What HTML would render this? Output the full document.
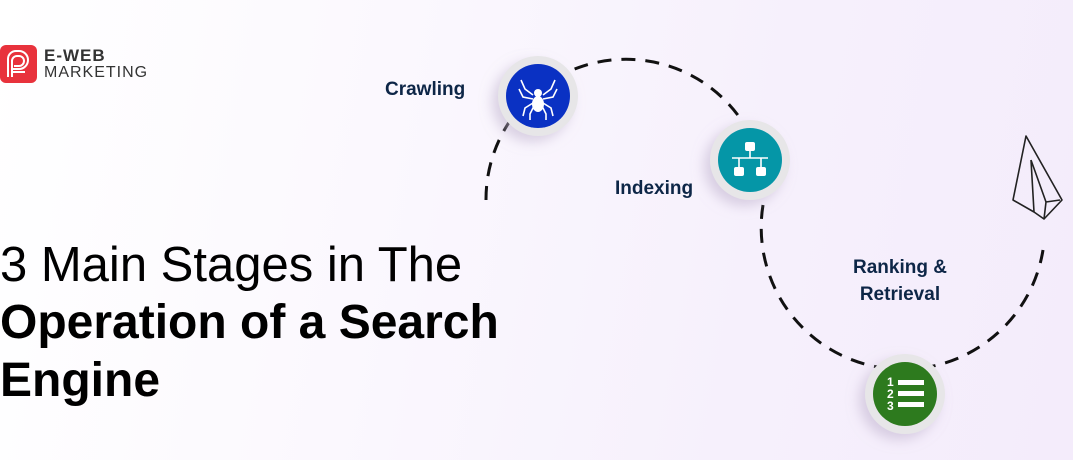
<!DOCTYPE html>
<html><head><style>
html,body{margin:0;padding:0;}
body{width:1073px;height:460px;overflow:hidden;position:relative;font-family:"Liberation Sans",sans-serif;
background:linear-gradient(100deg,#ffffff 0%,#fbf8fe 35%,#f6f0fc 70%,#f4ecfb 100%);}
.t{position:absolute;white-space:nowrap;color:#000;}
.lbl{position:absolute;font-weight:bold;color:#0d2647;font-size:19px;}
</style></head><body>
<!-- logo -->
<div style="position:absolute;left:0;top:45px;width:37px;height:38px;background:#e8323c;border-radius:6px;"></div>
<svg style="position:absolute;left:0;top:45px" width="37" height="38"><path d="M8 32 V14 a8 8 0 0 1 8-8 h3 a9 9 0 0 1 0 18 h-7 M12 32 V16 a5 5 0 0 1 5-5 h2 a5 5 0 0 1 0 10 h-5 M13 27 h12" stroke="#fff" stroke-width="2" fill="none"/></svg>
<div class="t" style="left:44px;top:46px;font-size:17px;font-weight:bold;color:#333;letter-spacing:1px;">E-WEB</div>
<div class="t" style="left:44px;top:64px;font-size:16px;color:#333;letter-spacing:1px;">MARKETING</div>
<!-- title -->
<div class="t" style="left:0;top:236px;font-size:49px;line-height:58px;">3 Main Stages in The</div>
<div class="t" style="left:0;top:294px;font-size:48px;line-height:58px;font-weight:bold;">Operation of a Search</div>
<div class="t" style="left:0;top:352px;font-size:48px;line-height:58px;font-weight:bold;">Engine</div>
<svg style="position:absolute;left:0;top:0" width="1073" height="460">
<defs><filter id="sh" x="-50%" y="-50%" width="200%" height="200%"><feDropShadow dx="-6" dy="6" stdDeviation="6" flood-color="#b9aac8" flood-opacity="0.5"/></filter></defs>
<g fill="none" stroke="#111" stroke-width="3" stroke-dasharray="14 10">
<path d="M486 200 A140 140 0 0 1 740 118"/>
<path d="M763 205 A140 140 0 0 0 1043 250"/>
</g>
<!-- paper plane -->
<g fill="none" stroke="#222" stroke-width="1.6" stroke-linejoin="round">
<path d="M1013 200 L1026 136 L1062 200 L1044 219 L1034 212 Z"/>
<path d="M1031 160 L1034 212 M1031 160 L1046 202 L1044 219 M1046 202 L1060 200"/>
</g>
<!-- nodes -->
<g filter="url(#sh)">
<circle cx="538" cy="96" r="40" fill="#e7e6e8"/>
<circle cx="750" cy="160" r="40" fill="#e7e6e8"/>
<circle cx="905" cy="394" r="40" fill="#e7e6e8"/>
</g>
<circle cx="538" cy="96" r="32" fill="#0a31c3"/>
<circle cx="750" cy="160" r="32" fill="#0596a7"/>
<circle cx="905" cy="394" r="32" fill="#2d7a1e"/>
<!-- spider -->
<g stroke="#fff" stroke-width="1.6" fill="none">
<path d="M533 95 l-8-6 l-4-9 M543 95 l8-6 l4-9 M533 99 l-10-2 l-4-8 M543 99 l10-2 l4-8 M533 103 l-8 5 l-2 8 M543 103 l8 5 l2 8 M534 106 l-4 8 l0 6 M542 106 l4 8 l0 6"/>
</g>
<ellipse cx="538" cy="93" rx="4" ry="4" fill="#fff"/>
<ellipse cx="538" cy="104" rx="6" ry="8" fill="#fff"/>
<!-- hierarchy -->
<g fill="#fff"><rect x="745" y="142" width="10" height="9" rx="2"/><rect x="734" y="167" width="10" height="9" rx="2"/><rect x="756" y="167" width="10" height="9" rx="2"/></g>
<g stroke="#fff" stroke-width="1.6"><path d="M750 151 V158 M732 158 H768 M739 158 V167 M761 158 V167"/></g>
<!-- list -->
<g fill="#fff"><rect x="898" y="380" width="26" height="5"/><rect x="898" y="391" width="26" height="5"/><rect x="898" y="402" width="26" height="5"/></g>
<g fill="#fff" font-family="Liberation Sans" font-weight="bold" font-size="12"><text x="887" y="386">1</text><text x="887" y="398">2</text><text x="887" y="410">3</text></g>
</svg>
<div class="lbl" style="left:385px;top:79px;">Crawling</div>
<div class="lbl" style="left:615px;top:178px;">Indexing</div>
<div class="lbl" style="left:853px;top:254px;text-align:center;line-height:27px;">Ranking &amp;<br>Retrieval</div>
</body></html>
